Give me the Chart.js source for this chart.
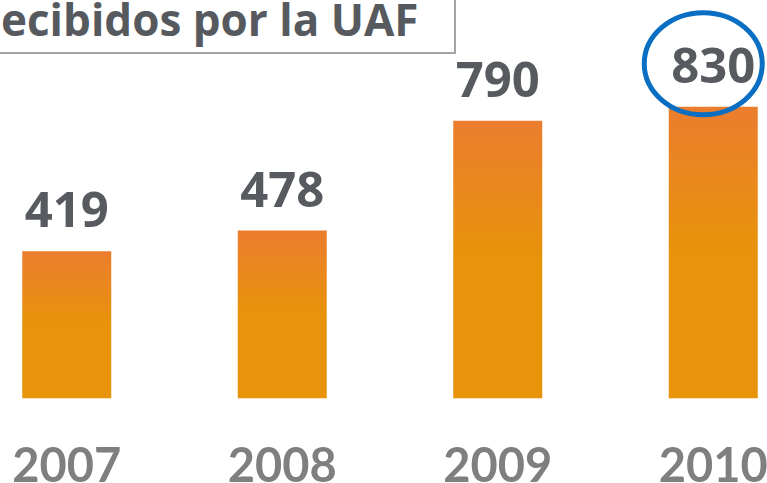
<!DOCTYPE html>
<html>
<head>
<meta charset="utf-8">
<script src="https://cdn.jsdelivr.net/npm/chart.js@4/dist/chart.umd.min.js"></script>
<style>
  html, body { margin: 0; padding: 0; background: #fff; }
  #wrap { position: relative; width: 767px; height: 483px; overflow: hidden; }
  #chart-box { position: absolute; left: -41px; top: 0; width: 862px; height: 535px; }
  #title {
    position: absolute; left: -20px; top: -10px; width: 476px; height: 64px;
    box-sizing: border-box; padding: 7px 0 0 21px;
    border-right: 2px solid #a3a3a3; border-bottom: 2px solid #a3a3a3;
    font: bold 44px/44px "Open Sans", sans-serif; color: #565a5f;
    white-space: nowrap; background: #fff;
  }
</style>
</head>
<body>
<div id="wrap">
  <div id="chart-box"><canvas id="uaf-chart"></canvas></div>
  <div id="title">ecibidos por la UAF</div>
</div>
<script>
'use strict';

var years = ['2007', '2008', '2009', '2010'];
var reports = [419, 478, 790, 830];
var highlighted = [3];

// orange gradient, darker at top of each bar
function barFill(ctx) {
  var chart = ctx.chart;
  if (!chart.chartArea || ctx.dataIndex === undefined) return '#e8930a';
  var yScale = chart.scales.y;
  var top = yScale.getPixelForValue(reports[ctx.dataIndex]);
  var bottom = yScale.getPixelForValue(0);
  var g = chart.ctx.createLinearGradient(0, top, 0, bottom);
  g.addColorStop(0, '#eb7d2e');
  g.addColorStop(0.5, '#e8930a');
  g.addColorStop(1, '#e8930a');
  return g;
}

var valueLabels = {
  id: 'valueLabels',
  afterDatasetsDraw: function(chart) {
    var ctx = chart.ctx;
    var meta = chart.getDatasetMeta(0);
    ctx.save();
    ctx.font = 'bold 49px "Open Sans", sans-serif';
    ctx.fillStyle = '#575b60';
    ctx.textAlign = 'center';
    ctx.textBaseline = 'alphabetic';
    meta.data.forEach(function(bar, i) {
      ctx.fillText(String(reports[i]), bar.x, bar.y - 24);
    });
    // blue ring round the last value
    ctx.strokeStyle = '#0a6fc2';
    ctx.lineWidth = 5;
    highlighted.forEach(function(i) {
      var bar = meta.data[i];
      ctx.beginPath();
      ctx.ellipse(bar.x - 10, bar.y - 43, 59, 51, 0, 0, Math.PI * 2);
      ctx.stroke();
    });
    ctx.restore();
  }
};

var canvas = document.getElementById('uaf-chart').getContext('2d');

var chart = new Chart(canvas, {
  type: 'bar',
  data: {
    labels: years,
    datasets: [{
      data: reports,
      backgroundColor: barFill,
      borderWidth: 0,
      categoryPercentage: 1,
      barPercentage: 0.413
    }]
  },
  options: {
    responsive: true,
    maintainAspectRatio: false,
    animation: false,
    layout: { padding: { top: 47, bottom: 8, left: 0, right: 0 } },
    plugins: {
      legend: { display: false },
      tooltip: { enabled: false },
      title: { display: false }
    },
    scales: {
      x: {
        grid: { display: false },
        border: { display: false },
        ticks: {
          padding: 32,
          color: '#7f7f7f',
          font: { family: 'Lato', weight: 'bold', size: 47, lineHeight: 1.2 }
        }
      },
      y: {
        display: false,
        min: 0,
        max: 1000
      }
    }
  },
  plugins: [valueLabels]
});
</script>
</body>
</html>
